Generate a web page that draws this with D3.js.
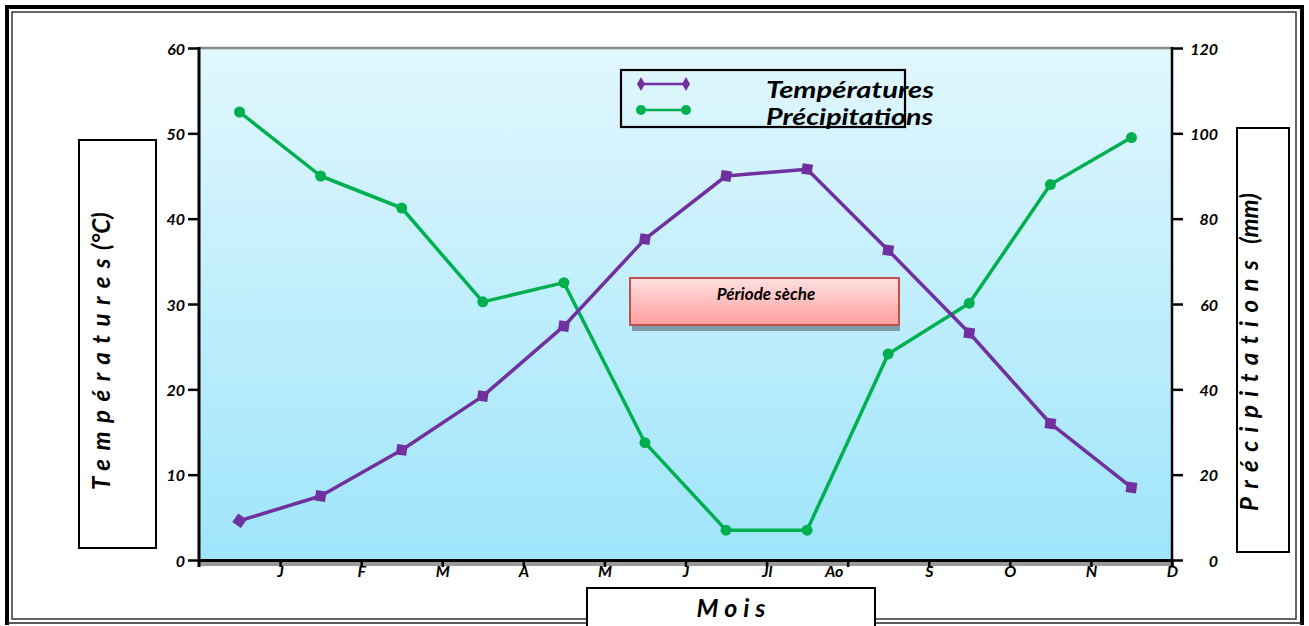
<!DOCTYPE html>
<html>
<head>
<meta charset="utf-8">
<script src="https://cdn.jsdelivr.net/npm/d3@7"></script>
<style>
  html, body { margin: 0; padding: 0; background: #fff; }
  svg { display: block; }
  text { font-family: Lato, "Open Sans", sans-serif; font-weight: 700; font-style: italic; fill: #000; }
</style>
</head>
<body>
<svg id="chart" width="1309" height="626"></svg>
<script>
// Monthly climate data
const months = ["J", "F", "M", "A", "M", "J", "Jl", "Ao", "S", "O", "N", "D"];
const temperatures = [4.6, 7.5, 12.9, 19.2, 27.4, 37.6, 45.0, 45.8, 36.3, 26.6, 16.0, 8.5];
const precipitations = [105, 90, 82.5, 60.5, 65, 27.5, 7, 7, 48.3, 60.2, 88, 99];
const tempTicks = [0, 10, 20, 30, 40, 50, 60];
const precTicks = [0, 20, 40, 60, 80, 100, 120];

const svg = d3.select("#chart");
const plotLeft = 199, plotRight = 1172, plotTop = 48, plotBottom = 560;

// scales
const x = d3.scaleLinear().domain([0, months.length]).range([plotLeft, plotRight]);
const yT = d3.scaleLinear().domain([0, 60]).range([plotBottom, plotTop]);
const yP = d3.scaleLinear().domain([0, 120]).range([plotBottom, plotTop]);

// outer frame
svg.append("path")
  .attr("d", "M7,625 V7 H1302 V625")
  .attr("fill", "none").attr("stroke", "#000").attr("stroke-width", 4);
svg.append("rect")
  .attr("x", 12).attr("y", 12).attr("width", 1284).attr("height", 607)
  .attr("fill", "none").attr("stroke", "#333").attr("stroke-width", 1.5);
svg.append("line")
  .attr("x1", 7).attr("x2", 1302).attr("y1", 623).attr("y2", 623)
  .attr("stroke", "#222").attr("stroke-width", 1.5);

// gradients
const defs = svg.append("defs");
const bg = defs.append("linearGradient").attr("id", "bgGrad")
  .attr("x1", 0).attr("y1", 0).attr("x2", 0).attr("y2", 1);
bg.append("stop").attr("offset", "0%").attr("stop-color", "#e1f7fd");
bg.append("stop").attr("offset", "100%").attr("stop-color", "#9fe5fb");

const pink = defs.append("linearGradient").attr("id", "pinkGrad")
  .attr("x1", 0).attr("y1", 0).attr("x2", 0).attr("y2", 1);
pink.append("stop").attr("offset", "0%").attr("stop-color", "#ffe0e0");
pink.append("stop").attr("offset", "100%").attr("stop-color", "#ff9f9f");

// plot area background
svg.append("rect")
  .attr("x", plotLeft).attr("y", plotTop)
  .attr("width", plotRight - plotLeft).attr("height", plotBottom - plotTop)
  .attr("fill", "url(#bgGrad)");
svg.append("line")
  .attr("x1", plotLeft).attr("x2", plotRight).attr("y1", plotTop).attr("y2", plotTop)
  .attr("stroke", "#8a8a8a").attr("stroke-width", 2.5);

// shadow under the month axis
svg.append("line")
  .attr("x1", plotLeft).attr("x2", plotRight).attr("y1", plotBottom + 4).attr("y2", plotBottom + 4)
  .attr("stroke", "#9a9a9a").attr("stroke-width", 4);

// month axis: ticks at the end of each month, labels on the ticks
const xAxis = d3.axisBottom(x)
  .tickValues(d3.range(1, months.length + 1))
  .tickFormat(i => months[i - 1])
  .tickSize(7).tickSizeOuter(0).tickPadding(2);
const gx = svg.append("g").attr("transform", `translate(0,${plotBottom})`).call(xAxis);
gx.select(".domain").attr("stroke", "#000").attr("stroke-width", 3);
gx.selectAll(".tick line").attr("stroke", "#000").attr("stroke-width", 2.5);
gx.selectAll(".tick text").attr("font-size", 16).attr("font-family", null).attr("dy", "0.5em")
  .attr("dx", i => months[i - 1] === "Ao" ? -14 : 0);

// left axis (temperature)
const yAxisL = d3.axisLeft(yT).tickValues(tempTicks).tickSize(11).tickSizeOuter(0).tickPadding(3);
const gl = svg.append("g").attr("transform", `translate(${plotLeft},0)`).call(yAxisL);
gl.select(".domain").remove();
gl.selectAll(".tick line").attr("stroke", "#000").attr("stroke-width", 2.5);
gl.selectAll(".tick text").attr("font-size", 16).attr("font-family", null).attr("dy", "0.38em");
svg.append("line")
  .attr("x1", plotLeft).attr("x2", plotLeft).attr("y1", plotTop - 1).attr("y2", plotBottom + 7)
  .attr("stroke", "#000").attr("stroke-width", 3);

// right axis (precipitation)
const yAxisR = d3.axisRight(yP).tickValues(precTicks).tickSize(11).tickSizeOuter(0).tickPadding(35);
const gr = svg.append("g").attr("transform", `translate(${plotRight},0)`).call(yAxisR);
gr.select(".domain").remove();
gr.selectAll(".tick line").attr("stroke", "#000").attr("stroke-width", 2.5);
gr.selectAll(".tick text").attr("font-size", 16).attr("font-family", null)
  .attr("text-anchor", "end").attr("dy", "0.38em");
svg.append("line")
  .attr("x1", plotRight).attr("x2", plotRight).attr("y1", plotTop - 1).attr("y2", plotBottom + 7)
  .attr("stroke", "#000").attr("stroke-width", 2.5);

// series
const purple = "#7030a0", green = "#00b050";
const mx = (d, i) => x(i + 0.5);

svg.append("path").datum(precipitations)
  .attr("fill", "none").attr("stroke", green).attr("stroke-width", 3.5)
  .attr("stroke-linejoin", "round")
  .attr("d", d3.line().x(mx).y(d => yP(d)));
svg.append("g").selectAll("circle").data(precipitations).join("circle")
  .attr("cx", mx).attr("cy", d => yP(d)).attr("r", 5.5).attr("fill", green);

svg.append("path").datum(temperatures)
  .attr("fill", "none").attr("stroke", purple).attr("stroke-width", 3.5)
  .attr("stroke-linejoin", "round")
  .attr("d", d3.line().x(mx).y(d => yT(d)));
const sq = d3.symbol().type(d3.symbolSquare).size(110);
svg.append("g").selectAll("path").data(temperatures).join("path")
  .attr("d", sq)
  .attr("transform", (d, i) => `translate(${mx(d, i)},${yT(d)}) rotate(${i === 0 ? 35 : 8})`)
  .attr("fill", purple);

// legend
svg.append("rect")
  .attr("x", 621).attr("y", 70).attr("width", 284).attr("height", 57)
  .attr("fill", "none").attr("stroke", "#000").attr("stroke-width", 2.2);
const lg = svg.append("g");
lg.append("line").attr("x1", 641).attr("x2", 686).attr("y1", 84).attr("y2", 84)
  .attr("stroke", purple).attr("stroke-width", 2.5);
lg.selectAll(".ld").data([641, 686]).join("path").attr("class", "ld")
  .attr("d", d3.symbol().type(d3.symbolDiamond).size(55))
  .attr("transform", d => `translate(${d},84)`).attr("fill", purple);
lg.append("line").attr("x1", 641).attr("x2", 686).attr("y1", 110).attr("y2", 110)
  .attr("stroke", green).attr("stroke-width", 2.5);
lg.selectAll(".lc").data([641, 686]).join("circle").attr("class", "lc")
  .attr("cx", d => d).attr("cy", 110).attr("r", 5).attr("fill", green);
lg.append("text").attr("x", 766).attr("y", 98).attr("font-size", 22)
  .attr("textLength", 168).attr("lengthAdjust", "spacingAndGlyphs").text("Températures");
lg.append("text").attr("x", 766).attr("y", 125).attr("font-size", 22)
  .attr("textLength", 167).attr("lengthAdjust", "spacingAndGlyphs").text("Précipitations");

// dry season label
svg.append("rect")
  .attr("x", 632).attr("y", 283).attr("width", 268).attr("height", 48)
  .attr("fill", "#7f9eaa");
svg.append("rect")
  .attr("x", 630).attr("y", 278).attr("width", 269).attr("height", 47)
  .attr("fill", "url(#pinkGrad)").attr("stroke", "#c0504d").attr("stroke-width", 2);
svg.append("text").attr("x", 766).attr("y", 300).attr("text-anchor", "middle")
  .attr("font-size", 17).text("Période sèche");

// axis title boxes
svg.append("rect").attr("x", 79).attr("y", 140).attr("width", 77).attr("height", 408)
  .attr("fill", "#fff").attr("stroke", "#000").attr("stroke-width", 2);
const tTitle = svg.append("text")
  .attr("transform", "translate(110,490) rotate(-90)")
  .attr("font-size", 24);
tTitle.append("tspan").attr("letter-spacing", 8.5).text("Températures");
tTitle.append("tspan").text("(°C)");

svg.append("rect").attr("x", 1237).attr("y", 128).attr("width", 52).attr("height", 424)
  .attr("fill", "#fff").attr("stroke", "#000").attr("stroke-width", 2);
const pTitle = svg.append("text")
  .attr("transform", "translate(1258,511) rotate(-90)")
  .attr("font-size", 24);
pTitle.append("tspan").attr("letter-spacing", 8.5).text("Précipitations");
pTitle.append("tspan").attr("dx", 8).text("(mm)");

svg.append("rect").attr("x", 587).attr("y", 588).attr("width", 288).attr("height", 40)
  .attr("fill", "#fff").attr("stroke", "#000").attr("stroke-width", 2);
svg.append("text").attr("x", 734).attr("y", 617).attr("text-anchor", "middle")
  .attr("font-size", 25).attr("letter-spacing", 6).text("Mois");
</script>
</body>
</html>
